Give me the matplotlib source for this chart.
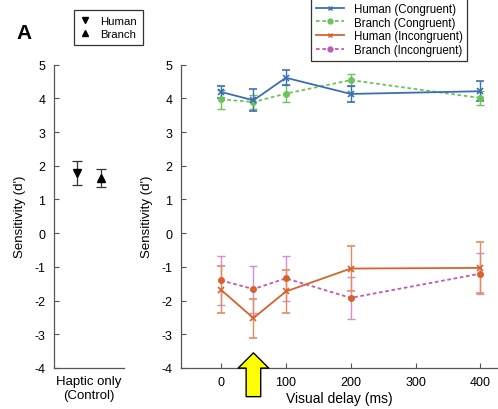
import matplotlib
matplotlib.use("Agg")
import matplotlib.pyplot as plt
from matplotlib.lines import Line2D

plt.rcParams['font.family'] = ['Liberation Sans', 'DejaVu Sans']
plt.rcParams['axes.unicode_minus'] = False

# control condition (haptic only)
ctrl_labels = ['Human', 'Branch']
ctrl_mean = [1.79, 1.63]
ctrl_err = [0.35, 0.27]

# visual delay conditions
delays = [0, 50, 100, 200, 400]
human_cong = [4.19, 3.94, 4.61, 4.13, 4.21]
human_cong_err = [0.18, 0.33, 0.22, 0.23, 0.30]
branch_cong = [3.97, 3.89, 4.14, 4.54, 4.01]
branch_cong_err = [0.28, 0.22, 0.25, 0.17, 0.22]
human_incong = [-1.68, -2.52, -1.73, -1.05, -1.03]
human_incong_err = [0.70, 0.58, 0.64, 0.68, 0.76]
branch_incong = [-1.40, -1.66, -1.34, -1.92, -1.20]
branch_incong_err = [0.72, 0.70, 0.66, 0.62, 0.60]

yticks = list(range(-4, 6))
xticks = [0, 100, 200, 300, 400]

c_blue = '#3b6fb3'
c_green = '#6cc35a'
c_orange = '#d8622c'
c_orange_err = '#e58a62'
c_pink = '#c457b5'
c_pink_err = '#d88ccf'
spine_c = '#555555'

fig = plt.figure(figsize=(4.98, 4.10), dpi=100)
ax1 = fig.add_axes([0.108, 0.100, 0.141, 0.740])
ax2 = fig.add_axes([0.363, 0.100, 0.637, 0.740])

for ax in (ax1, ax2):
    ax.set_ylim(-4, 5)
    ax.set_yticks(yticks)
    ax.spines['top'].set_visible(False)
    ax.spines['right'].set_visible(False)
    for s in ('left', 'bottom'):
        ax.spines[s].set_color(spine_c)
        ax.spines[s].set_linewidth(0.9)
    ax.tick_params(direction='in', length=3.5, color=spine_c, labelsize=9, pad=6)
    ax.set_ylabel("Sensitivity (d')", fontsize=9.5, labelpad=6)

# left panel
ctrl_markers = ['v', '^']
for i, (m, e, mk) in enumerate(zip(ctrl_mean, ctrl_err, ctrl_markers)):
    ax1.errorbar(i + 1, m, yerr=e, fmt=mk, color='black', ms=6, capsize=3.5,
                 elinewidth=0.9, capthick=0.9, ecolor='#333333')
ax1.set_xlim(0, 3)
ax1.set_xticks([1.5])
ax1.set_xticklabels(['Haptic only\n(Control)'], fontsize=9.5)
ax1.tick_params(axis='x', length=0, pad=5)
leg1 = ax1.legend(handles=[Line2D([], [], ls='none', marker=mk, color='black', ms=5)
                           for mk in ctrl_markers],
                  labels=ctrl_labels, fontsize=8.2, loc='upper left',
                  bbox_to_anchor=(74 / 498, 1 - 11 / 410), bbox_transform=fig.transFigure,
                  frameon=True, fancybox=False, edgecolor='black', handlelength=1.0,
                  handletextpad=0.8, labelspacing=0.3, borderpad=0.5, borderaxespad=0)
leg1.get_frame().set_linewidth(0.9)

# right panel
kw = dict(capsize=3, elinewidth=1.0, capthick=1.0, lw=1.3)
ax2.errorbar(delays, branch_incong, yerr=branch_incong_err, color=c_pink, ls=(0, (2, 1.5)),
             marker='o', ms=4, mfc=c_orange, mec=c_orange, ecolor=c_pink_err, **kw)
ax2.errorbar(delays, human_incong, yerr=human_incong_err, color=c_orange, ls='-',
             marker='x', ms=4, mew=1.2, ecolor=c_orange_err, **kw)
ax2.errorbar(delays, branch_cong, yerr=branch_cong_err, color=c_green, ls=(0, (2, 1.5)),
             marker='o', ms=4, ecolor=c_green, **kw)
ax2.errorbar(delays, human_cong, yerr=human_cong_err, color=c_blue, ls='-',
             marker='x', ms=4, mew=1.2, ecolor=c_blue, **kw)
ax2.set_xlim(-62, 427)
ax2.set_xticks(xticks)
ax2.set_xlabel('Visual delay (ms)', fontsize=10, labelpad=2)

handles = [
    Line2D([], [], color=c_blue, ls='-', marker='x', ms=3.5, lw=1.3),
    Line2D([], [], color=c_green, ls=(0, (2, 1.5)), marker='o', ms=3.5, lw=1.3),
    Line2D([], [], color=c_orange, ls='-', marker='x', ms=3.5, lw=1.3),
    Line2D([], [], color=c_pink, ls=(0, (2, 1.5)), marker='o', ms=3.5, lw=1.3),
]
labels = ['Human (Congruent)', 'Branch (Congruent)', 'Human (Incongruent)', 'Branch (Incongruent)']
leg2 = fig.legend(handles, labels, fontsize=8.3, loc='upper left',
                  bbox_to_anchor=(311 / 498, 1.002), frameon=True, fancybox=False,
                  edgecolor='black', handlelength=2.5, handletextpad=0.8,
                  labelspacing=0.15, borderpad=0.4, borderaxespad=0)
leg2.get_frame().set_linewidth(0.9)

# yellow arrow at 50 ms
ax2.annotate('', xy=(50, -3.55), xytext=(50, -4.85), xycoords='data',
             annotation_clip=False,
             arrowprops=dict(arrowstyle='simple,head_width=2.2,head_length=1.1,tail_width=1.05',
                             mutation_scale=10, fc='#ffff00', ec='black', lw=1.0,
                             shrinkA=0, shrinkB=0))

fig.text(0.034, 0.905, 'A', fontsize=15, fontweight='bold')

fig.savefig('out.png', dpi=100)
